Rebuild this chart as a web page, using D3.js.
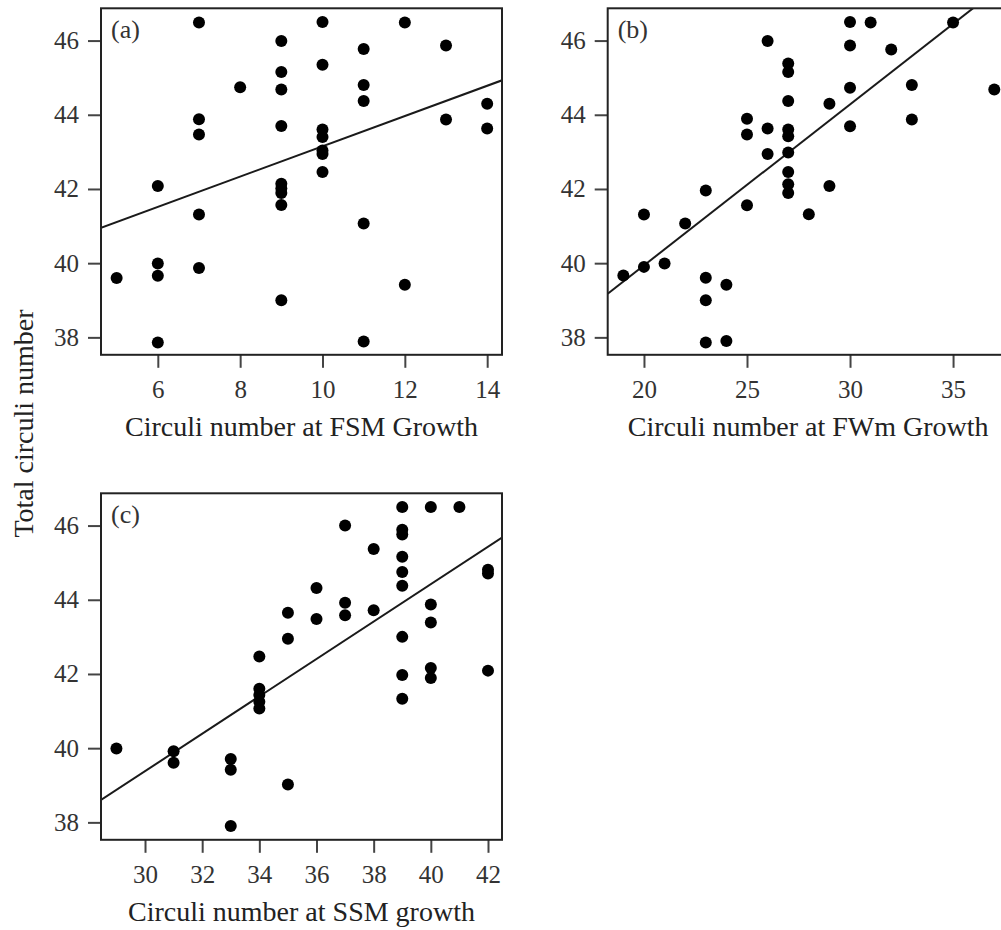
<!DOCTYPE html>
<html>
<head>
<meta charset="utf-8">
<script src="https://cdn.jsdelivr.net/npm/d3@7"></script>
<style>
  html, body { margin: 0; padding: 0; background: #fff; }
  svg { display: block; }
</style>
</head>
<body>
<svg id="chart" width="1001" height="930"></svg>
<script>
// ---------------- data ----------------
const yTicks = [38, 40, 42, 44, 46];
const yTitle = "Total circuli number";
const panelLabels = ["(a)", "(b)", "(c)"];
const xTitles = ["Circuli number at FSM Growth", "Circuli number at FWm Growth", "Circuli number at SSM growth"];

const xTicksA = [6, 8, 10, 12, 14];
const xTicksB = [20, 25, 30, 35];
const xTicksC = [30, 32, 34, 36, 38, 40, 42];

// (a) circuli at FSM growth vs total
const fsmX = [5,
  6, 6, 6, 6,
  7, 7, 7, 7, 7,
  8,
  9, 9, 9, 9, 9, 9, 9, 9, 9,
  10, 10, 10, 10, 10, 10, 10,
  11, 11, 11, 11, 11,
  12, 12,
  13, 13,
  14, 14];
const fsmY = [39.60,
  42.08, 39.99, 39.66, 37.86,
  46.49, 43.88, 43.47, 41.31, 39.87,
  44.74,
  45.99, 45.15, 44.68, 43.70, 42.14, 42.01, 41.89, 41.57, 39.00,
  46.50, 45.35, 43.60, 43.40, 43.04, 42.94, 42.46,
  45.77, 44.80, 44.37, 41.07, 37.89,
  46.49, 39.42,
  45.87, 43.87,
  44.30, 43.63];

// (b) circuli at FWm growth vs total
const fwmX = [19,
  20, 20,
  21,
  22,
  23, 23, 23, 23,
  24, 24,
  25, 25, 25,
  26, 26, 26,
  27, 27, 27, 27, 27, 27, 27, 27, 27,
  28,
  29, 29,
  30, 30, 30, 30,
  31,
  32,
  33, 33,
  35,
  37];
const fwmY = [39.67,
  41.31, 39.90,
  39.99,
  41.07,
  41.96, 39.61, 39.00, 37.86,
  39.42, 37.90,
  43.89, 43.47, 41.56,
  45.99, 43.63, 42.94,
  45.38, 45.15, 44.37, 43.60, 43.42, 42.98, 42.46, 42.13, 41.89,
  41.32,
  44.30, 42.08,
  46.50, 45.87, 44.73, 43.69,
  46.49,
  45.76,
  44.80, 43.87,
  46.49,
  44.68];

// (c) circuli at SSM growth vs total
const ssmX = [29,
  31, 31,
  33, 33, 33,
  34, 34, 34, 34, 34,
  35, 35, 35,
  36, 36,
  37, 37, 37,
  38, 38,
  39, 39, 39, 39, 39, 39, 39, 39, 39,
  40, 40, 40, 40, 40,
  41,
  42, 42, 42];
const ssmY = [39.99,
  39.92, 39.61,
  39.71, 39.42, 37.90,
  42.47, 41.60, 41.43, 41.25, 41.07,
  43.65, 42.95, 39.02,
  44.32, 43.48,
  46.00, 43.92, 43.58,
  45.37, 43.72,
  46.50, 45.89, 45.76, 45.16, 44.75, 44.38, 43.00, 41.97, 41.33,
  46.50, 43.87, 43.39, 42.16, 41.89,
  46.50,
  44.81, 44.71, 42.09];

// fitted regression lines (slope, intercept)
const fitSlope = [0.408, 0.434, 0.504];
const fitIntercept = [39.07, 31.26, 24.26];

// axis domains
const xDomainA = [4.62, 14.36];
const xDomainB = [18.24, 37.70];
const xDomainC = [28.46, 42.49];
const yDomain = [37.53, 46.87];

// ---------------- drawing ----------------
const svg = d3.select("#chart");
const FONT = "'Liberation Serif', 'Times New Roman', serif";

const panels = [
  { left: 101, top: 8.3, xs: fsmX, ys: fsmY, ticks: xTicksA, dom: xDomainA },
  { left: 607.7, top: 8.3, xs: fwmX, ys: fwmY, ticks: xTicksB, dom: xDomainB },
  { left: 101, top: 493.3, xs: ssmX, ys: ssmY, ticks: xTicksC, dom: xDomainC }
];
const W = 401, H = 346.5;

panels.forEach((p, i) => {
  const g = svg.append("g").attr("transform", `translate(${p.left},${p.top})`);
  const x = d3.scaleLinear().domain(p.dom).range([0, W]);
  const y = d3.scaleLinear().domain(yDomain).range([H, 0]);

  const clipId = "clip" + i;
  g.append("clipPath").attr("id", clipId)
    .append("rect").attr("x", 0).attr("y", 0).attr("width", W).attr("height", H);

  // axes
  const xAxis = d3.axisBottom(x).tickValues(p.ticks).tickSize(13).tickSizeOuter(0).tickPadding(12).tickFormat(d3.format("d"));
  const yAxis = d3.axisLeft(y).tickValues(yTicks).tickSize(13).tickSizeOuter(0).tickPadding(9).tickFormat(d3.format("d"));

  const gx = g.append("g").attr("transform", `translate(0,${H})`).call(xAxis);
  const gy = g.append("g").call(yAxis);
  [gx, gy].forEach(a => {
    a.select(".domain").remove();
    a.selectAll(".tick line").attr("stroke", "#444").attr("stroke-width", 2);
    a.selectAll(".tick text").attr("fill", "#333").style("font-family", FONT).style("font-size", "25px");
  });

  // regression line
  const d0 = p.dom[0], d1 = p.dom[1];
  g.append("line")
    .attr("clip-path", `url(#${clipId})`)
    .attr("x1", x(d0)).attr("y1", y(fitIntercept[i] + fitSlope[i] * d0))
    .attr("x2", x(d1)).attr("y2", y(fitIntercept[i] + fitSlope[i] * d1))
    .attr("stroke", "#1a1a1a").attr("stroke-width", 2);

  // points
  g.append("g").selectAll("circle")
    .data(p.xs.map((v, k) => [v, p.ys[k]]))
    .join("circle")
    .attr("cx", d => x(d[0]))
    .attr("cy", d => y(d[1]))
    .attr("r", 6)
    .attr("fill", "#000");

  // frame
  g.append("rect").attr("x", 0).attr("y", 0).attr("width", W).attr("height", H)
    .attr("fill", "none").attr("stroke", "#222").attr("stroke-width", 2);

  // panel label
  g.append("text").attr("x", 10).attr("y", 30)
    .style("font-family", FONT).style("font-size", "26px").attr("fill", "#333")
    .text(panelLabels[i]);

  // x title
  g.append("text").attr("x", W / 2).attr("y", H + 81)
    .attr("text-anchor", "middle")
    .style("font-family", FONT).style("font-size", "28px").attr("fill", "#222")
    .text(xTitles[i]);
});

// shared y title
svg.append("text")
  .attr("transform", "translate(33,423.5) rotate(-90)")
  .attr("text-anchor", "middle")
  .style("font-family", FONT).style("font-size", "28px").attr("fill", "#222")
  .text(yTitle);
</script>
</body>
</html>
